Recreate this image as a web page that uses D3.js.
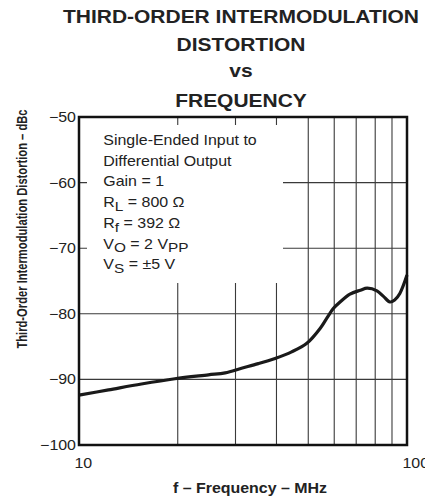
<!DOCTYPE html>
<html>
<head>
<meta charset="utf-8">
<script src="https://cdn.jsdelivr.net/npm/d3@7"></script>
<style>
  body { margin: 0; background: #fff; }
  svg { display: block; font-family: "Liberation Sans", Arial, sans-serif; }
</style>
</head>
<body>
<div id="chart"></div>
<script>
// curve: frequency (MHz) and distortion (dBc)
const freqMHz = [10, 12.3, 15.5, 19.6, 24.8, 27.9, 31.3, 35.2, 39.6, 44.5, 49.5, 54.4, 56.9, 59.6, 62.5, 67, 72.1, 75.6, 81, 84.6, 88.7, 91.7, 95.1, 100];
const imdDbc  = [-92.4, -91.6, -90.7, -89.9, -89.3, -89.0, -88.3, -87.6, -86.8, -85.8, -84.5, -82.2, -80.7, -79.2, -78.2, -77.0, -76.4, -76.1, -76.5, -77.3, -78.2, -77.9, -76.9, -74.1];

const xGrid   = [20, 30, 40, 50, 60, 70, 80, 90];
const yGrid   = [-60, -70, -80, -90];
const yTicks  = [-50, -60, -70, -80, -90, -100];
const xLabels = [10, 100];

const titleLines = ["THIRD-ORDER INTERMODULATION", "DISTORTION", "vs", "FREQUENCY"];
const noteLines = [
  [["Single-Ended Input to", 0]],
  [["Differential Output", 0]],
  [["Gain = 1", 0]],
  [["R", 0], ["L", 1], [" = 800 \u03A9", 0]],
  [["R", 0], ["f", 1], [" = 392 \u03A9", 0]],
  [["V", 0], ["O", 1], [" = 2 V", 0], ["PP", 1]],
  [["V", 0], ["S", 1], [" = \u00B15 V", 0]]
];

const W = 425, H = 498;
const margin = {top: 117, right: 18, bottom: 53, left: 79};
const pw = W - margin.left - margin.right,
      ph = H - margin.top - margin.bottom;

// the original artwork is a bit wider than tall, so text gets stretched sideways
const sx = 1.14;

const svg = d3.select("#chart").append("svg")
  .attr("width", W)
  .attr("height", H);

const x = d3.scaleLog().domain([10, 100]).range([0, pw]);
const y = d3.scaleLinear().domain([-100, -50]).range([ph, 0]);

function place(px, py) {
  return `translate(${px},${py}) scale(${sx},1)`;
}

// title
svg.append("g")
  .selectAll("text")
  .data(titleLines)
  .join("text")
  .attr("transform", (d, i) => place(241, [23.3, 50.6, 77.3, 107.3][i]))
  .attr("text-anchor", "middle")
  .attr("font-size", 18.4)
  .attr("font-weight", "bold")
  .attr("fill", "#222")
  .text(d => d);

const g = svg.append("g")
  .attr("transform", `translate(${margin.left},${margin.top})`);

// grid
g.selectAll(".vgrid")
  .data(xGrid)
  .join("line")
  .attr("class", "vgrid")
  .attr("x1", d => x(d)).attr("x2", d => x(d))
  .attr("y1", 0).attr("y2", ph)
  .attr("stroke", "#3a3a3a")
  .attr("stroke-width", 1.1);

g.selectAll(".hgrid")
  .data(yGrid)
  .join("line")
  .attr("class", "hgrid")
  .attr("x1", 0).attr("x2", pw)
  .attr("y1", d => y(d)).attr("y2", d => y(d))
  .attr("stroke", "#3a3a3a")
  .attr("stroke-width", 1.1);

// white box behind the conditions note
g.append("rect")
  .attr("x", 8)
  .attr("y", 8)
  .attr("width", 196)
  .attr("height", 158)
  .attr("fill", "#fff");

// conditions note
noteLines.forEach((parts, i) => {
  const t = g.append("text")
    .attr("transform", place(24.3, 28 + i * 20.7))
    .attr("font-size", 14)
    .attr("fill", "#222");
  parts.forEach(([s, sub]) => {
    t.append("tspan")
      .attr("baseline-shift", sub ? -4 : null)
      .attr("font-size", sub ? 13.5 : null)
      .text(s);
  });
});

// curve
const line = d3.line()
  .x(d => x(d[0]))
  .y(d => y(d[1]))
  .curve(d3.curveCatmullRom.alpha(0.5));

g.append("path")
  .datum(d3.zip(freqMHz, imdDbc))
  .attr("d", line)
  .attr("fill", "none")
  .attr("stroke", "#1a1a1a")
  .attr("stroke-width", 3.2)
  .attr("stroke-linejoin", "round");

// frame
g.append("rect")
  .attr("width", pw)
  .attr("height", ph)
  .attr("fill", "none")
  .attr("stroke", "#111")
  .attr("stroke-width", 2.5);

// y tick labels
g.selectAll(".ylab")
  .data(yTicks)
  .join("text")
  .attr("class", "ylab")
  .attr("transform", d => place(-3, y(d)))
  .attr("dy", "0.36em")
  .attr("text-anchor", "end")
  .attr("font-size", 14)
  .attr("fill", "#222")
  .text(d => d3.format("")(d).replace("-", "\u2212"));

// x tick labels (the 100 runs off the right edge, as in the original)
g.selectAll(".xlab")
  .data(xLabels)
  .join("text")
  .attr("class", "xlab")
  .attr("transform", d => place(x(d) - 4.5, ph + 23))
  .attr("text-anchor", "start")
  .attr("font-size", 14)
  .attr("fill", "#222")
  .text(d => d);

// axis titles
svg.append("text")
  .attr("transform", place(250, 493))
  .attr("text-anchor", "middle")
  .attr("font-size", 14)
  .attr("font-weight", "bold")
  .attr("fill", "#222")
  .text("f \u2013 Frequency \u2013 MHz");

svg.append("text")
  .attr("transform", "translate(26.5,229) scale(1.25,1) rotate(-90)")
  .attr("text-anchor", "middle")
  .attr("font-size", 11.2)
  .attr("font-weight", "bold")
  .attr("fill", "#222")
  .text("Third-Order Intermodulation Distortion \u2013 dBc");
</script>
</body>
</html>
